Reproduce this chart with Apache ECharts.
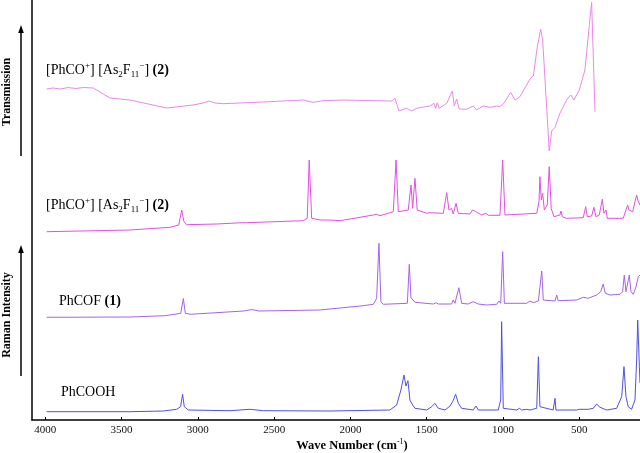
<!DOCTYPE html>
<html>
<head>
<meta charset="utf-8">
<script src="https://cdn.jsdelivr.net/npm/echarts@6/dist/echarts.min.js"></script>
<style>html,body{margin:0;padding:0;background:#fff;}#c{width:640px;height:453px;}</style>
</head>
<body>
<div id="c"></div>
<script>
// ---- data (wave numbers in cm-1, intensities in stacked arbitrary units) ----
var xTicks = [4000, 3500, 3000, 2500, 2000, 1500, 1000, 500];

var irWn = [3991, 3950, 3900, 3850, 3800, 3750, 3685, 3576, 3445, 3204, 3032, 2966, 2927, 2888, 2835, 2573, 2311, 2245, 2180, 2049, 1900, 1729, 1708, 1682, 1631, 1599, 1566, 1479, 1452, 1441, 1431, 1418, 1369, 1332, 1319, 1304, 1287, 1238, 1195, 1173, 1129, 1085, 1041, 1020, 994, 950, 921, 889, 823, 801, 775, 753, 740, 697, 681, 659, 627, 583, 556, 535, 500, 463, 435, 419, 397];
var irT = [331, 332, 331, 332.5, 331.5, 332.5, 332, 322, 320, 312, 315, 317, 319, 317, 316.3, 318, 320, 317.7, 319.3, 320, 319.5, 319, 321.7, 309, 311.7, 309, 311.7, 314, 316.7, 311.7, 317.3, 311.7, 316.7, 329, 314, 321, 311, 310.7, 314, 310, 314, 312.7, 314, 313.3, 316.7, 327.7, 320, 323.3, 341, 344, 373.3, 390.7, 380, 269, 289, 292.7, 306.7, 320, 325, 320, 330, 350, 393.3, 417.7, 308.3];

var r2Wn = [3991, 3445, 3183, 3125, 3106, 3091, 3073, 2877, 2713, 2702, 2680, 2309, 2283, 2270, 2254, 2200, 2135, 2068, 1850, 1828, 1806, 1719, 1701, 1686, 1621, 1603, 1592, 1577, 1562, 1500, 1479, 1391, 1369, 1354, 1337, 1326, 1308, 1293, 1217, 1199, 1182, 1173, 1140, 1112, 1096, 1020, 1002, 987, 779, 764, 758, 749, 740, 729, 710, 697, 684, 666, 627, 620, 611, 583, 474, 458, 447, 419, 404, 391, 369, 349, 338, 325, 317, 212, 194, 183, 174, 161, 150, 135, 124, 113, 102];
var r2I = [188.3, 190, 192.7, 195, 210, 198.3, 195.3, 196, 197.3, 198.3, 197.3, 199.3, 201.7, 260, 201.7, 200, 200, 199.3, 205, 205.7, 204.3, 208.3, 260, 208.3, 210, 235, 211.7, 241.7, 210, 206.7, 207.3, 206.7, 227.3, 210, 211.7, 206, 216.7, 206.7, 206, 210, 208.7, 209.3, 205, 206.7, 204.7, 204.7, 260, 205, 206.7, 218.3, 243.3, 220, 226.7, 210, 215, 253.3, 211.7, 203.3, 205, 209, 203.3, 201.7, 202.3, 213.3, 203.3, 204, 212.7, 203.3, 205, 220.7, 206.7, 210, 201.7, 201.7, 210, 215, 210, 211.7, 208.3, 218.3, 225, 218.3, 215];

var r1Wn = [3991, 3445, 3215, 3112, 3095, 3082, 3050, 2700, 2647, 2600, 2200, 2135, 1916, 1850, 1828, 1813, 1800, 1785, 1627, 1614, 1603, 1577, 1457, 1439, 1424, 1337, 1326, 1315, 1289, 1271, 1228, 1195, 1162, 1107, 1041, 1026, 1015, 1002, 991, 845, 823, 801, 768, 746, 736, 659, 648, 638, 517, 474, 441, 386, 360, 343, 330, 299, 233, 216, 205, 194, 183, 172, 161, 146, 128, 113, 102];
var r1I = [102.7, 103, 104.3, 106.7, 121.5, 106.7, 105.7, 109, 110.5, 109, 110, 111, 114.3, 115.7, 121.7, 176.7, 118.3, 115.7, 116.7, 155.7, 122.3, 117.7, 116, 117.3, 116, 116, 120, 116.7, 132.3, 116.7, 116, 118.3, 116, 115, 115.7, 119, 116.7, 168.3, 116.7, 116.7, 119, 117.3, 119, 149, 120, 119, 125, 119.3, 120, 122.7, 121.7, 125, 128.3, 136, 126.7, 125, 125.7, 128.3, 145, 128.3, 128.3, 145, 128.3, 125.7, 133.3, 143.3, 145];

var r0Wn = [3991, 3445, 3227, 3139, 3113, 3100, 3089, 3063, 2789, 2658, 2571, 2134, 1741, 1697, 1669, 1649, 1636, 1623, 1610, 1592, 1577, 1500, 1467, 1446, 1424, 1380, 1347, 1330, 1310, 1293, 1271, 1195, 1177, 1162, 1031, 1015, 1009, 998, 987, 910, 893, 878, 845, 834, 823, 805, 795, 779, 768, 758, 671, 659, 653, 517, 500, 441, 430, 408, 386, 364, 320, 255, 222, 207, 194, 179, 157, 135, 124, 117, 106, 102];
var r0I = [8.3, 8.3, 9, 10.7, 13.3, 25.7, 13.3, 10, 9.3, 10.7, 9.3, 9, 10, 15, 30, 45, 34, 39.3, 20, 15, 11.7, 10, 13.3, 16.7, 11.7, 10, 14, 18.3, 25.7, 16.7, 11.7, 10, 14, 10, 10, 20, 98.3, 11.7, 10, 10, 11.7, 10, 10.7, 12.7, 10, 10.7, 12.7, 11.7, 63.3, 13.3, 10, 21.7, 10, 10, 10.7, 10.7, 12.7, 11.7, 16, 12.7, 10, 11.7, 23.3, 53.3, 23.3, 13.3, 10.7, 20, 60, 100, 53.3, 37];

function pairs(xs, ys) { return xs.map(function (x, i) { return [x, ys[i]]; }); }

var FONT = "'Liberation Serif', 'Times New Roman', serif";

var chart = echarts.init(document.getElementById('c'), null, { renderer: 'canvas' });

function lineSeries(name, xs, ys, color) {
  return {
    name: name, type: 'line', data: pairs(xs, ys), showSymbol: false, symbol: 'none',
    lineStyle: { color: color, width: 1 }, silent: true, animation: false
  };
}

var richLbl = {
  a: { fontFamily: FONT, fontSize: 14, lineHeight: 18, color: '#111', verticalAlign: 'middle' },
  b: { fontFamily: FONT, fontSize: 14, lineHeight: 18, color: '#111', fontWeight: 'bold', verticalAlign: 'middle' },
  sup: { fontFamily: FONT, fontSize: 9, lineHeight: 9, color: '#111', verticalAlign: 'top' },
  sub: { fontFamily: FONT, fontSize: 9, lineHeight: 8, color: '#111', verticalAlign: 'bottom' }
};
var saltText = '{a|[PhCO}{sup|+}{a|] [As}{sub|2}{a|F}{sub|11}{sup|\u2212}{a|] }{b|(2)}';

function label(text, x, y) {
  return { type: 'text', x: x, y: y, silent: true,
    style: { text: text, rich: richLbl, textVerticalAlign: 'middle', textAlign: 'left' } };
}

function arrow(x, y0, y1) {
  return [
    { type: 'line', silent: true, shape: { x1: x, y1: y0, x2: x, y2: y1 + 6 }, style: { stroke: '#000', lineWidth: 1.5 } },
    { type: 'polygon', silent: true, shape: { points: [[x - 2.8, y1 + 8], [x, y1], [x + 2.8, y1 + 8]] }, style: { fill: '#000' } }
  ];
}

var graphics = [
  label(saltText, 46, 70),
  label(saltText, 46, 205),
  label('{a|PhCOF }{b|(1)}', 59, 301),
  label('{a|PhCOOH}', 61, 392),
  { type: 'text', x: 7, y: 92, rotation: Math.PI / 2, silent: true,
    style: { text: 'Transmission', font: 'bold 12px ' + FONT, fill: '#000', textAlign: 'center', textVerticalAlign: 'middle' } },
  { type: 'text', x: 7, y: 315, rotation: Math.PI / 2, silent: true,
    style: { text: 'Raman Intensity', font: 'bold 12px ' + FONT, fill: '#000', textAlign: 'center', textVerticalAlign: 'middle' } },
  { type: 'text', x: 352, y: 446, silent: true,
    style: { text: '{t|Wave Number (cm}{s|-1}{t|)}', textAlign: 'center', textVerticalAlign: 'middle',
      rich: {
        t: { fontFamily: FONT, fontSize: 12.5, fontWeight: 'bold', lineHeight: 16, color: '#000', verticalAlign: 'middle' },
        s: { fontFamily: FONT, fontSize: 8, lineHeight: 9, color: '#000', verticalAlign: 'top' }
      } } }
].concat(arrow(21, 156, 25)).concat(arrow(21, 376, 245));

chart.setOption({
  animation: false,
  backgroundColor: '#fff',
  grid: { left: 32, right: 0, top: 0, bottom: 33, containLabel: false },
  xAxis: {
    type: 'value', inverse: true, min: 102, max: 4087,
    axisLine: { show: true, onZero: false, lineStyle: { color: '#000', width: 1.5 } },
    axisTick: { show: true, inside: true, length: 3, customValues: xTicks, lineStyle: { color: '#000', width: 1 } },
    axisLabel: { customValues: xTicks, fontFamily: FONT, fontSize: 11, color: '#111', margin: 5,
      formatter: function (v) { return String(v); } },
    splitLine: { show: false }
  },
  yAxis: {
    type: 'value', min: 0, max: 420,
    axisLine: { show: true, onZero: false, lineStyle: { color: '#000', width: 1.5 } },
    axisTick: { show: false }, axisLabel: { show: false }, splitLine: { show: false }
  },
  series: [
    lineSeries('IR (2)', irWn, irT, '#ea88ea'),
    lineSeries('Raman (2)', r2Wn, r2I, '#e24fe2'),
    lineSeries('PhCOF (1)', r1Wn, r1I, '#a463ea'),
    lineSeries('PhCOOH', r0Wn, r0I, '#5050e0')
  ],
  graphic: graphics
});
</script>
</body>
</html>
